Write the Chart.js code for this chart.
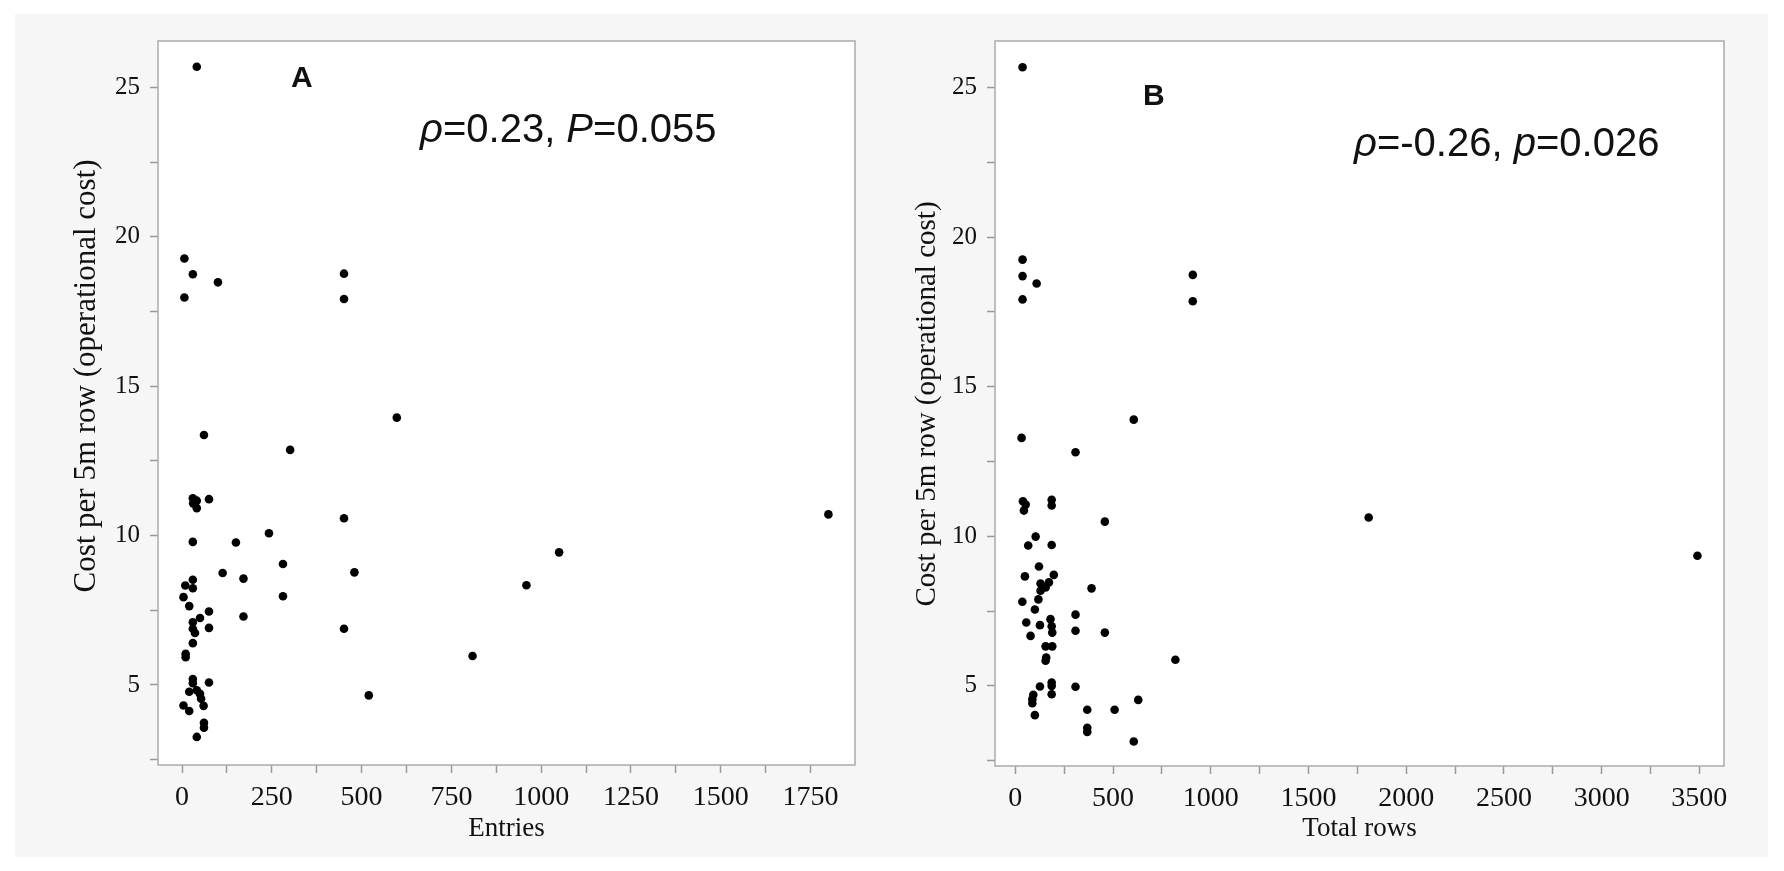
<!DOCTYPE html>
<html><head><meta charset="utf-8">
<script src="https://cdn.jsdelivr.net/npm/chart.js@4.4.1/dist/chart.umd.min.js"></script>
<style>
html,body{margin:0;padding:0;background:#fff;}
body{width:1784px;height:871px;position:relative;overflow:hidden;}
#bg{position:absolute;left:15px;top:14px;width:1753px;height:843px;background:#f6f6f6;}
.cv{position:absolute;top:0;width:892px;height:871px;}
#wa{left:0}#wb{left:892px}
.lab{position:absolute;font-family:'Liberation Sans',Arial,sans-serif;font-weight:bold;font-size:30px;line-height:1;color:#111;white-space:nowrap}
.ann{position:absolute;font-family:'Liberation Sans',Arial,sans-serif;font-size:40px;line-height:1;color:#111;white-space:nowrap}
</style></head><body>
<div id="bg"></div>
<div class="cv" id="wa"><canvas id="ca"></canvas></div>
<div class="cv" id="wb"><canvas id="cb"></canvas></div>
<div class="lab" style="left:291px;top:62px">A</div>
<div class="ann" style="left:420px;top:108px"><i>ρ</i>=0.23, <i>P</i>=0.055</div>
<div class="lab" style="left:1143px;top:80px">B</div>
<div class="ann" style="left:1354px;top:122px"><i>ρ</i>=-0.26, <i>p</i>=0.026</div>
<script>
// ---- Data ----
const entriesX = [41, 6.5, 30, 100, 6.5, 451, 451, 598, 61, 301,
  30, 41, 31, 41, 75, 451, 242, 30, 150, 281, 113, 480, 171,
  30, 9, 30, 4, 281, 20, 75, 50, 171,
  30, 30, 36, 75, 451, 30, 10, 10,
  30, 30, 75, 20, 41, 50, 53, 520, 4, 20, 60,
  61, 61, 41,
  1800, 1050, 959, 809];
const entriesCost = [25.70, 19.28, 18.75, 18.48, 17.97, 18.77, 17.92, 13.95, 13.37, 12.87,
  11.25, 11.17, 11.08, 10.92, 11.22, 10.58, 10.08, 9.79, 9.77, 9.05, 8.75, 8.77, 8.56,
  8.52, 8.33, 8.24, 7.94, 7.97, 7.64, 7.46, 7.24, 7.29,
  7.10, 6.88, 6.74, 6.91, 6.88, 6.40, 6.04, 5.93,
  5.20, 5.06, 5.08, 4.77, 4.82, 4.70, 4.54, 4.65, 4.31, 4.13, 4.30,
  3.73, 3.57, 3.26,
  10.71, 9.44, 8.34, 5.97];

const rowsX = [37, 37, 37, 109, 37, 908, 908, 606, 32, 308,
  39, 53, 44, 186, 186, 458, 1808, 104, 66, 186, 3490,
  121, 49, 197, 129, 172, 155, 129, 390,
  118, 36, 100, 308, 180, 56, 126, 186, 189,
  308, 458, 78, 155, 189, 158, 155, 819,
  186, 186, 126, 308, 92, 87, 87, 186, 629,
  100, 368, 508, 368, 368, 606];
const rowsCost = [25.68, 19.25, 18.70, 18.45, 17.92, 18.74, 17.86, 13.90, 13.29, 12.81,
  11.17, 11.06, 10.86, 11.22, 11.03, 10.49, 10.63, 9.99, 9.69, 9.71, 9.35,
  8.99, 8.66, 8.71, 8.42, 8.46, 8.29, 8.18, 8.26,
  7.89, 7.81, 7.55, 7.38, 7.23, 7.12, 7.03, 6.99, 6.78,
  6.84, 6.78, 6.67, 6.32, 6.32, 5.95, 5.84, 5.87,
  5.11, 5.00, 4.98, 4.97, 4.70, 4.55, 4.42, 4.72, 4.53,
  4.02, 4.20, 4.20, 3.60, 3.46, 3.14];

const entriesTicks = [0, 250, 500, 750, 1000, 1250, 1500, 1750];
const rowsTicks = [0, 500, 1000, 1500, 2000, 2500, 3000, 3500];
const costTicks = [5, 10, 15, 20, 25];

const yTitleText = 'Cost per 5m row (operational cost)';
const entriesTitle = 'Entries';
const rowsTitle = 'Total rows';

// major ticks plus the half-way minor ticks that fall inside [min, max]
function withMinor(major, min, max) {
  const step = major[1] - major[0];
  const out = [];
  const first = major[0] - step / 2;
  if (first > min) out.push(first);
  major.forEach((v, i) => {
    out.push(v);
    const h = v + step / 2;
    if (h < max) out.push(h);
  });
  return out.filter(v => v > min && v < max);
}

// ---- Plugins ----
const framePlugin = {
  id: 'frame',
  beforeDraw(chart) {
    const {ctx, chartArea: a} = chart;
    ctx.save();
    ctx.fillStyle = '#ffffff';
    ctx.fillRect(a.left, a.top, a.right - a.left, a.bottom - a.top);
    ctx.restore();
  },
  afterDraw(chart) {
    const {ctx, chartArea: a} = chart;
    ctx.save();
    ctx.strokeStyle = '#ababab';
    ctx.lineWidth = 1.5;
    ctx.strokeRect(a.left, a.top, a.right - a.left, a.bottom - a.top);
    ctx.restore();
  }
};
const yTitlePlugin = {
  id: 'ytitle',
  afterDraw(chart, args, opts) {
    const ctx = chart.ctx;
    ctx.save();
    ctx.translate(opts.x, opts.y);
    ctx.rotate(-Math.PI / 2);
    ctx.font = opts.size + "px 'Liberation Serif', 'Times New Roman', serif";
    ctx.fillStyle = '#111';
    ctx.textAlign = 'center';
    ctx.textBaseline = 'middle';
    ctx.fillText(opts.text, 0, 0);
    ctx.restore();
  }
};

const serif = "'Liberation Serif', 'Times New Roman', serif";
const yMin = 2.32, yMax = 26.56;

function makeChart(canvasId, xs, ys, cfg) {
  const pts = xs.map((x, i) => ({x: x, y: ys[i]}));
  const xTickVals = withMinor(cfg.xTicks, cfg.xMin, cfg.xMax);
  const yTickVals = withMinor(costTicks, yMin, yMax);
  return new Chart(document.getElementById(canvasId), {
    type: 'scatter',
    data: {datasets: [{data: pts, backgroundColor: '#000', borderWidth: 0, pointRadius: 4.3, pointHoverRadius: 4.3}]},
    plugins: [framePlugin, yTitlePlugin],
    options: {
      responsive: true,
      maintainAspectRatio: false,
      animation: false,
      events: [],
      layout: {padding: {left: 0, right: cfg.padRight, top: 41, bottom: 0}},
      plugins: {
        legend: {display: false},
        tooltip: {enabled: false},
        ytitle: {text: yTitleText, x: cfg.titleX, y: cfg.titleY, size: cfg.titleSize}
      },
      scales: {
        x: {
          type: 'linear',
          min: cfg.xMin, max: cfg.xMax,
          afterBuildTicks(s) { s.ticks = xTickVals.map(v => ({value: v})); },
          afterFit(s) { s.height = cfg.xHeight; },
          border: {display: false},
          grid: {drawOnChartArea: false, drawTicks: true, tickLength: 8, tickColor: '#9a9a9a', tickWidth: 1.5},
          ticks: {
            autoSkip: false, maxRotation: 0, minRotation: 0,
            padding: 8, color: '#111', font: {family: serif, size: 28},
            callback: v => cfg.xTicks.includes(v) ? String(v) : ''
          },
          title: {display: true, text: cfg.xTitle, color: '#111', font: {family: serif, size: 27}, padding: {top: 0, bottom: 26}}
        },
        y: {
          type: 'linear',
          min: yMin, max: yMax,
          afterBuildTicks(s) { s.ticks = yTickVals.map(v => ({value: v})); },
          afterFit(s) { s.width = cfg.yWidth; },
          border: {display: false},
          grid: {drawOnChartArea: false, drawTicks: true, tickLength: 8, tickColor: '#9a9a9a', tickWidth: 1.5},
          ticks: {
            autoSkip: false, padding: 10, color: '#111',
            font: {family: serif, size: 25},
            callback: v => costTicks.includes(v) ? String(v) : ''
          }
        }
      }
    }
  });
}

makeChart('ca', entriesX, entriesCost, {
  padRight: 37, yWidth: 158, xHeight: 106, xMin: -67, xMax: 1874,
  xTicks: entriesTicks, xTitle: entriesTitle, titleX: 87, titleY: 376, titleSize: 31
});
makeChart('cb', rowsX, rowsCost, {
  padRight: 60, yWidth: 103, xHeight: 105, xMin: -104, xMax: 3626,
  xTicks: rowsTicks, xTitle: rowsTitle, titleX: 35, titleY: 404, titleSize: 29
});
</script>
</body></html>
